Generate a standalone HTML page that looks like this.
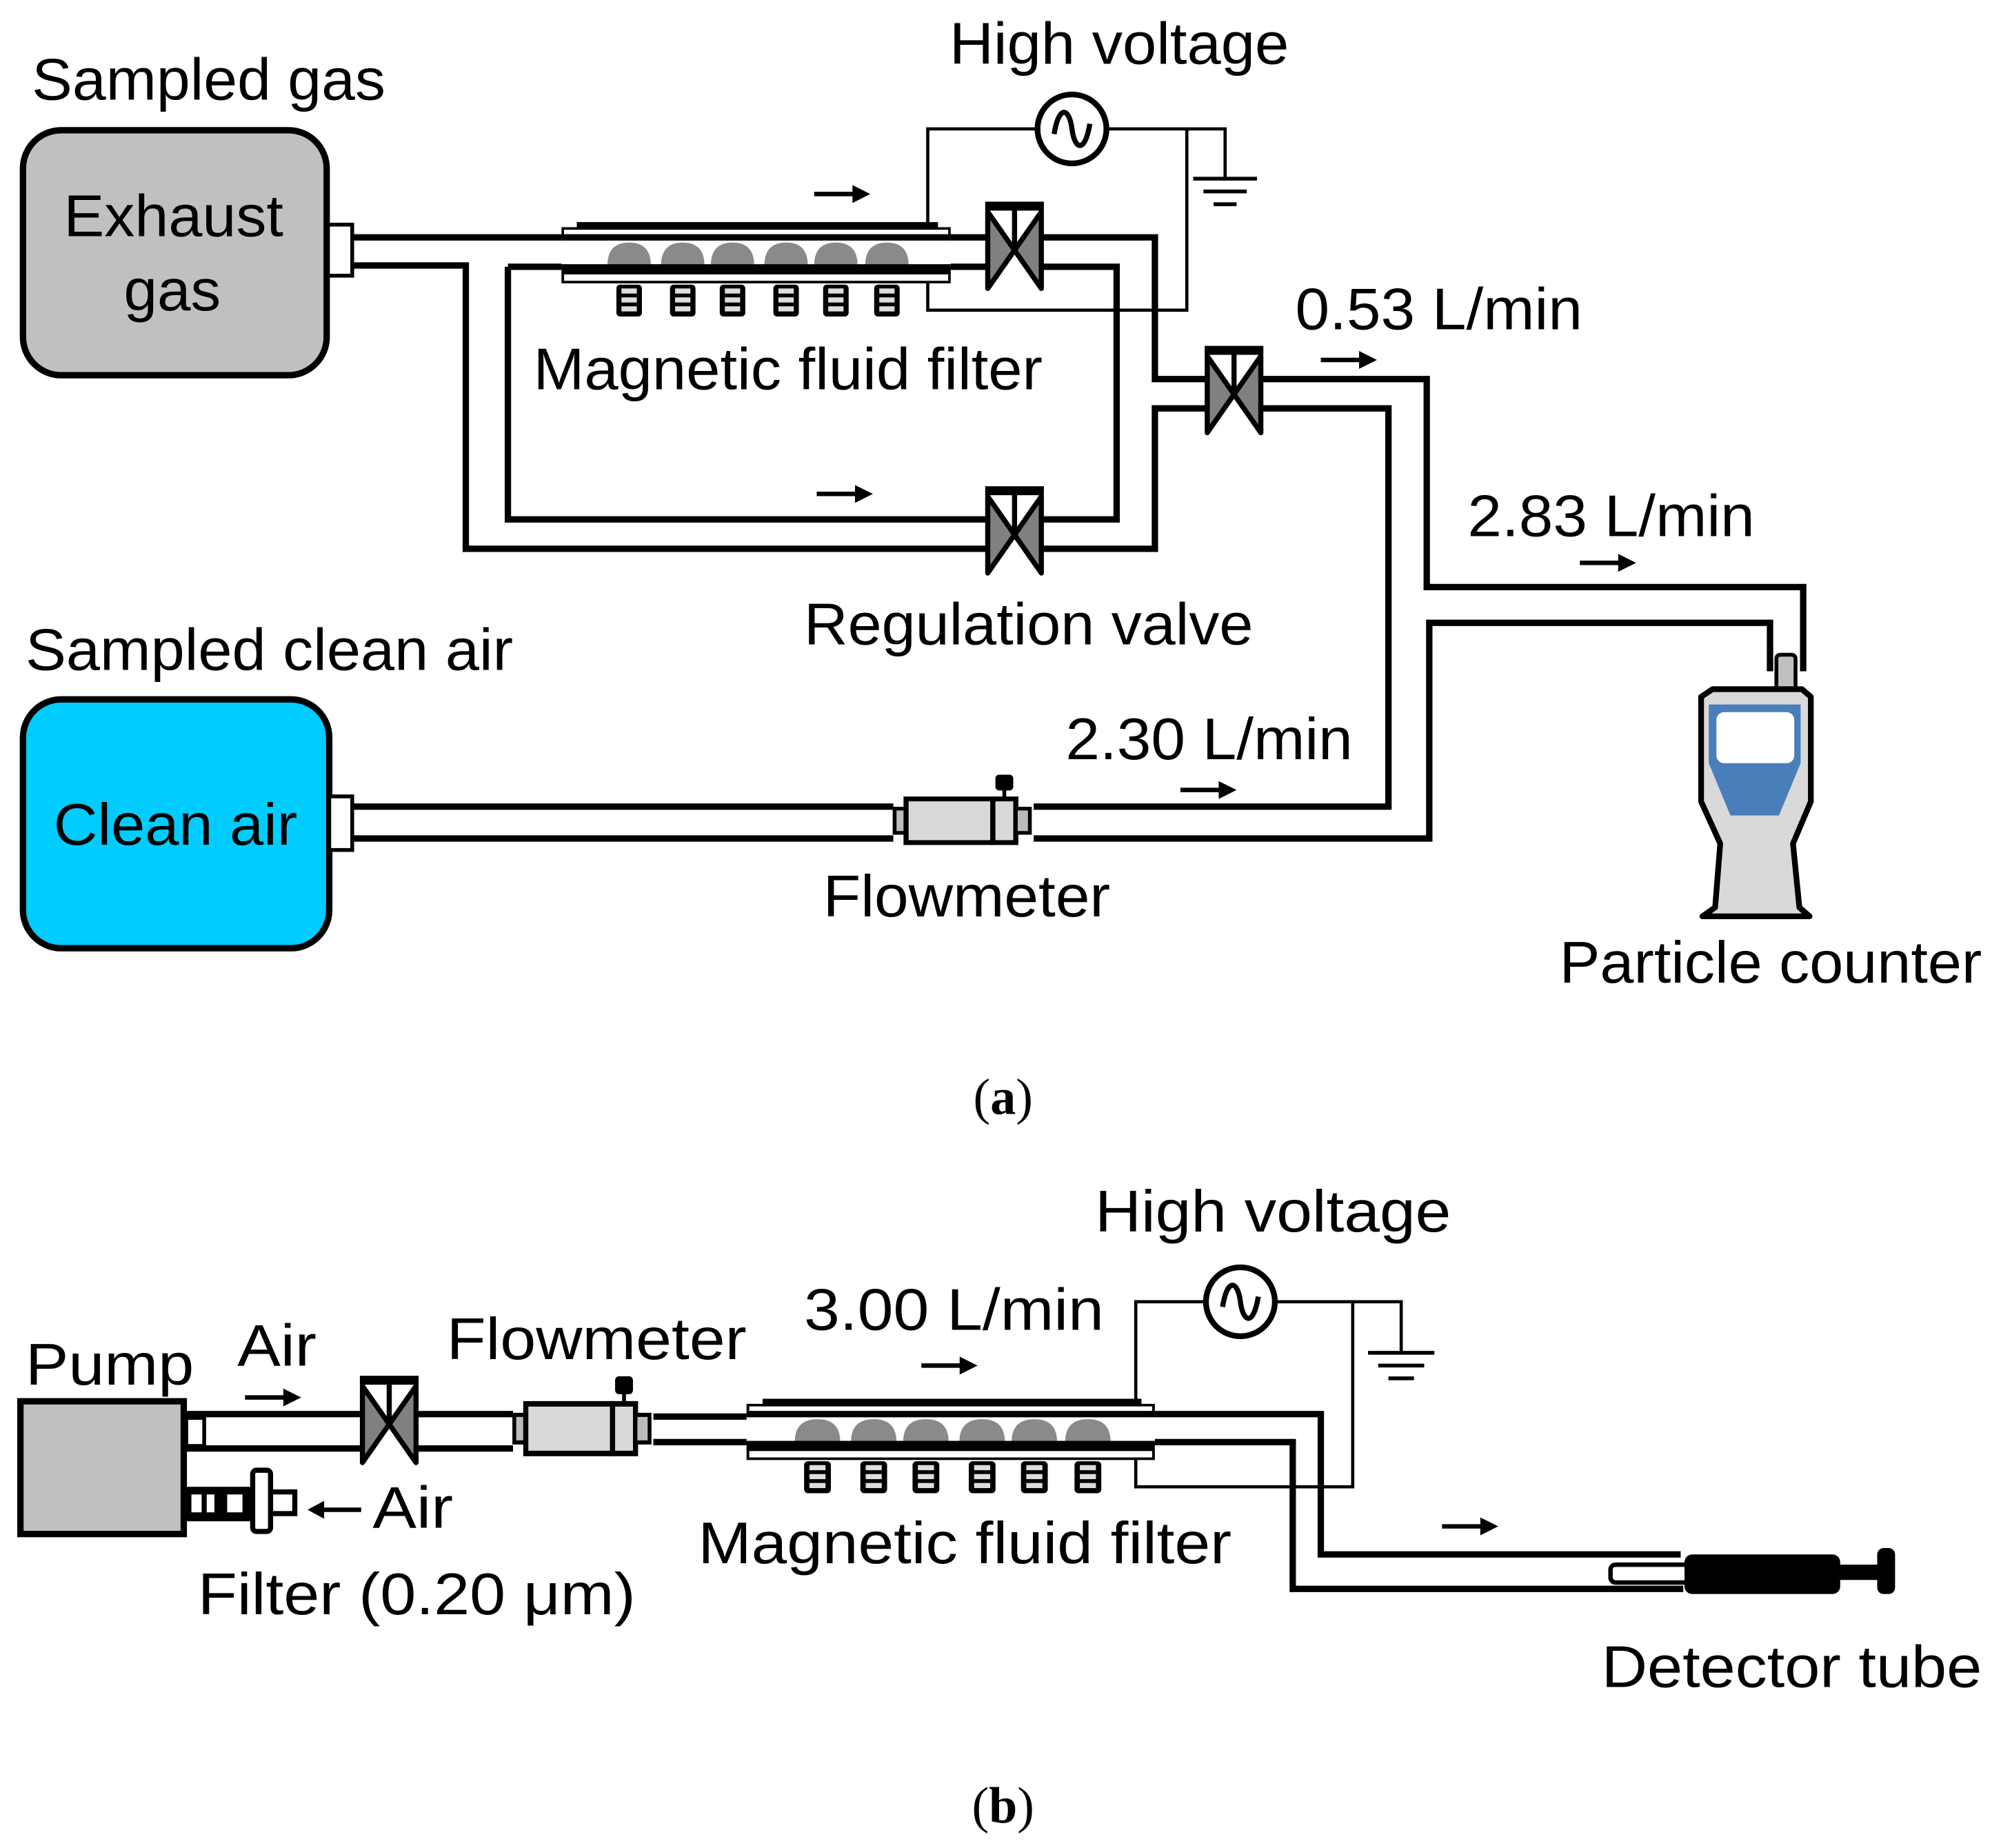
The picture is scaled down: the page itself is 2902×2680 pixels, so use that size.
<!DOCTYPE html>
<html><head><meta charset="utf-8"><style>
html,body{margin:0;padding:0;background:#fff;}
svg{display:block;}
text{font-family:"Liberation Sans",Arial,sans-serif;font-size:46px;fill:#000;}
.cap{font-family:"Liberation Serif",serif;font-size:40px;}
</style></head><body>
<svg width="2902" height="2680" viewBox="0 0 1568 1448" xmlns="http://www.w3.org/2000/svg">
<defs>
 <g id="valve">
  <path d="M-21,-30 L-21,30 L21,-30 L21,30 Z" fill="#808080" stroke="#000" stroke-width="4" stroke-linejoin="round"/>
  <line x1="0" y1="-32" x2="0" y2="0" stroke="#000" stroke-width="4"/>
  <rect x="-23" y="-38" width="46" height="7" fill="#000"/>
 </g>
 <g id="mag">
  <rect x="-10" y="0" width="20" height="25" rx="3" fill="#000"/>
  <rect x="-6" y="3" width="12" height="4" fill="#ddd"/>
  <rect x="-6" y="10" width="12" height="4" fill="#ddd"/>
  <rect x="-6" y="17" width="12" height="4" fill="#ddd"/>
 </g>
 <path id="bead" d="M-17,22 Q-17,4 0,4 Q17,4 17,22 Z" fill="#8a8a8a"/>
 <g id="filter">
  <rect x="12" y="-12" width="283" height="6" fill="#000"/>
  <rect x="1" y="-7" width="303" height="7" fill="#fff" stroke="#000" stroke-width="2"/>
  <line x1="0" y1="0" x2="305" y2="0" stroke="#000" stroke-width="5"/>
  <use href="#bead" x="53"/><use href="#bead" x="95"/><use href="#bead" x="134"/>
  <use href="#bead" x="176"/><use href="#bead" x="215"/><use href="#bead" x="255"/>
  <rect x="0" y="21" width="305" height="7" fill="#000"/>
  <rect x="1" y="28" width="303" height="7" fill="#fff" stroke="#000" stroke-width="2"/>
  <use href="#mag" x="53" y="37"/><use href="#mag" x="95" y="37"/><use href="#mag" x="134" y="37"/>
  <use href="#mag" x="176" y="37"/><use href="#mag" x="215" y="37"/><use href="#mag" x="255" y="37"/>
 </g>
 <g id="flow">
  <rect x="1" y="8" width="9" height="20" fill="#bbb" stroke="#000" stroke-width="3"/>
  <rect x="10" y="0" width="68" height="36" fill="#d9d9d9" stroke="#000" stroke-width="4"/>
  <rect x="78" y="0" width="18" height="36" fill="#d9d9d9" stroke="#000" stroke-width="4"/>
  <rect x="96" y="8" width="11" height="20" fill="#bbb" stroke="#000" stroke-width="3"/>
  <line x1="87" y1="0" x2="87" y2="-8" stroke="#000" stroke-width="3"/>
  <rect x="80" y="-20" width="14" height="13" rx="3" fill="#000"/>
 </g>
 <g id="arrow">
  <line x1="0" y1="0" x2="32" y2="0" stroke="#000" stroke-width="3.5"/>
  <path d="M30,-7 L44,0 L30,7 Z" fill="#000"/>
 </g>
 <g id="hv">
  <circle cx="0" cy="0" r="27" fill="#fff" stroke="#000" stroke-width="4.5"/>
  <path d="M-14,4 C-10,-20 -2,-16 0,0 C2,16 10,20 14,-4" fill="none" stroke="#000" stroke-width="4"/>
 </g>
</defs>

<!-- ===== (a) ===== -->
<text x="25" y="78" textLength="277" lengthAdjust="spacingAndGlyphs">Sampled gas</text>
<text x="744" y="50" textLength="266" lengthAdjust="spacingAndGlyphs">High voltage</text>
<rect x="18" y="102" width="238" height="192" rx="30" fill="#c0c0c0" stroke="#000" stroke-width="5"/>
<text x="50" y="185" textLength="172" lengthAdjust="spacingAndGlyphs">Exhaust</text>
<text x="97" y="243" textLength="76" lengthAdjust="spacingAndGlyphs">gas</text>
<rect x="257" y="176" width="19" height="40" fill="#fff" stroke="#000" stroke-width="3"/>

<g fill="none" stroke="#000" stroke-width="5" stroke-linejoin="miter">
 <path d="M276,186 H440 M745,186 H775 M815,186 H905 V297 H946"/>
 <path d="M276,208 H365 V430 H775 M815,430 H905 V320 H946"/>
 <path d="M398,209 V407 H775 M815,407 H875 V209 H815 M745,209 H775 M398,209 H440"/>
 <path d="M988,297 H1118 V460 H1413 V526"/>
 <path d="M988,320 H1088 V632 H810 M700,632 H276"/>
 <path d="M276,657 H700 M810,657 H1120 V488 H1387 V526"/>
</g>
<use href="#filter" transform="translate(440,186)"/>
<g fill="none" stroke="#000" stroke-width="2.5">
 <path d="M727,174 V101 H813 M867,101 H930 V243 H727 V222 M930,101 H960 V140"/>
 <path d="M935,140 H985 M943,150 H977 M951,160 H969" stroke-width="3"/>
</g>
<use href="#hv" x="840" y="101"/>
<use href="#valve" x="795" y="196"/>
<use href="#valve" x="967" y="309"/>
<use href="#valve" x="795" y="419"/>
<use href="#arrow" x="638" y="152"/>
<use href="#arrow" x="640" y="387"/>
<use href="#arrow" x="1035" y="282"/>
<use href="#arrow" x="1238" y="441"/>
<use href="#arrow" x="925" y="619"/>
<text x="418" y="305" textLength="399" lengthAdjust="spacingAndGlyphs">Magnetic fluid filter</text>
<text x="1015" y="258" textLength="225" lengthAdjust="spacingAndGlyphs">0.53 L/min</text>
<text x="1150" y="420" textLength="225" lengthAdjust="spacingAndGlyphs">2.83 L/min</text>
<text x="630" y="505" textLength="352" lengthAdjust="spacingAndGlyphs">Regulation valve</text>
<text x="20" y="525" textLength="382" lengthAdjust="spacingAndGlyphs">Sampled clean air</text>
<rect x="18" y="548" width="240" height="195" rx="30" fill="#00ccff" stroke="#000" stroke-width="5"/>
<text x="42" y="662" textLength="191" lengthAdjust="spacingAndGlyphs">Clean air</text>
<rect x="258" y="624" width="18" height="42" fill="#fff" stroke="#000" stroke-width="3"/>
<use href="#flow" transform="translate(700,626) scale(1,0.95)"/>
<text x="835" y="595" textLength="225" lengthAdjust="spacingAndGlyphs">2.30 L/min</text>
<text x="645" y="718" textLength="225" lengthAdjust="spacingAndGlyphs">Flowmeter</text>
<rect x="1392" y="513" width="15" height="28" rx="3" fill="#c0c0c0" stroke="#000" stroke-width="3"/>
<path d="M1342,540 H1412 L1419,546 V628 L1405,661 L1410,711 L1418,718 H1334 L1344,711 L1348,661 L1333,628 V546 Z" fill="#d9d9d9" stroke="#000" stroke-width="4.5" stroke-linejoin="round"/>
<path d="M1339,552 H1411 V598 L1394,639 H1356 L1339,598 Z" fill="#4a7eba"/>
<rect x="1345" y="558" width="61" height="40" rx="6" fill="#fff"/>
<text x="1222" y="770" textLength="331" lengthAdjust="spacingAndGlyphs">Particle counter</text>
<text class="cap" x="786" y="873" text-anchor="middle">(<tspan font-weight="bold">a</tspan>)</text>

<!-- ===== (b) ===== -->
<text x="858" y="965" textLength="279" lengthAdjust="spacingAndGlyphs">High voltage</text>
<text x="630" y="1042" textLength="235" lengthAdjust="spacingAndGlyphs">3.00 L/min</text>
<text x="20" y="1085" textLength="132" lengthAdjust="spacingAndGlyphs">Pump</text>
<text x="186" y="1070" textLength="62" lengthAdjust="spacingAndGlyphs">Air</text>
<text x="350" y="1065" textLength="235" lengthAdjust="spacingAndGlyphs">Flowmeter</text>
<rect x="16" y="1098" width="128" height="104" fill="#c0c0c0" stroke="#000" stroke-width="5"/>
<g fill="none" stroke="#000" stroke-width="5">
 <path d="M144,1108 H282 M328,1108 H402 M144,1135 H282 M328,1135 H402"/>
 <path d="M512,1110 H585 M512,1130 H585"/>
 <path d="M905,1108 H1035 V1218 H1317 M905,1130 H1013 V1245 H1319"/>
</g>
<rect x="146" y="1111" width="14" height="22" fill="#fff" stroke="#000" stroke-width="3"/>
<use href="#valve" x="305" y="1116"/>
<use href="#flow" transform="translate(402,1100) scale(1,1.08)"/>
<use href="#filter" transform="translate(585,1108) scale(1.049,1)"/>
<g fill="none" stroke="#000" stroke-width="2.5">
 <path d="M890,1096 V1020 H944 M1000,1020 H1098 V1060 M1060,1020 V1165 H890 V1143"/>
 <path d="M1072,1060 H1124 M1080,1070 H1116 M1088,1080 H1108" stroke-width="3"/>
</g>
<use href="#hv" x="972" y="1020"/>
<use href="#arrow" x="192" y="1095"/>
<use href="#arrow" x="722" y="1070"/>
<use href="#arrow" x="1130" y="1196"/>
<rect x="146" y="1165" width="51" height="27" fill="#000"/>
<rect x="150" y="1171" width="8" height="14" fill="#fff"/>
<rect x="162" y="1171" width="6" height="14" fill="#fff"/>
<rect x="178" y="1171" width="12" height="14" fill="#fff"/>
<rect x="212" y="1169" width="19" height="17" fill="#fff" stroke="#000" stroke-width="4"/>
<rect x="198" y="1152" width="14" height="48" rx="3" fill="#fff" stroke="#000" stroke-width="4"/>
<line x1="252" y1="1183" x2="283" y2="1183" stroke="#000" stroke-width="3.5"/>
<path d="M254,1176 L241,1183 L254,1190 Z" fill="#000"/>
<text x="292" y="1197" textLength="63" lengthAdjust="spacingAndGlyphs">Air</text>
<text x="155" y="1265" textLength="343" lengthAdjust="spacingAndGlyphs">Filter (0.20 μm)</text>
<text x="547" y="1225" textLength="418" lengthAdjust="spacingAndGlyphs">Magnetic fluid filter</text>
<rect x="1262" y="1226" width="62" height="14" rx="4" fill="#fff" stroke="#000" stroke-width="3.5"/>
<rect x="1320" y="1218" width="122" height="31" rx="6" fill="#000"/>
<rect x="1440" y="1226" width="32" height="12" fill="#000"/>
<rect x="1471" y="1213" width="14" height="36" rx="5" fill="#000"/>
<text x="1255" y="1322" textLength="298" lengthAdjust="spacingAndGlyphs">Detector tube</text>
<text class="cap" x="786" y="1428" text-anchor="middle">(<tspan font-weight="bold">b</tspan>)</text>
</svg>
</body></html>
